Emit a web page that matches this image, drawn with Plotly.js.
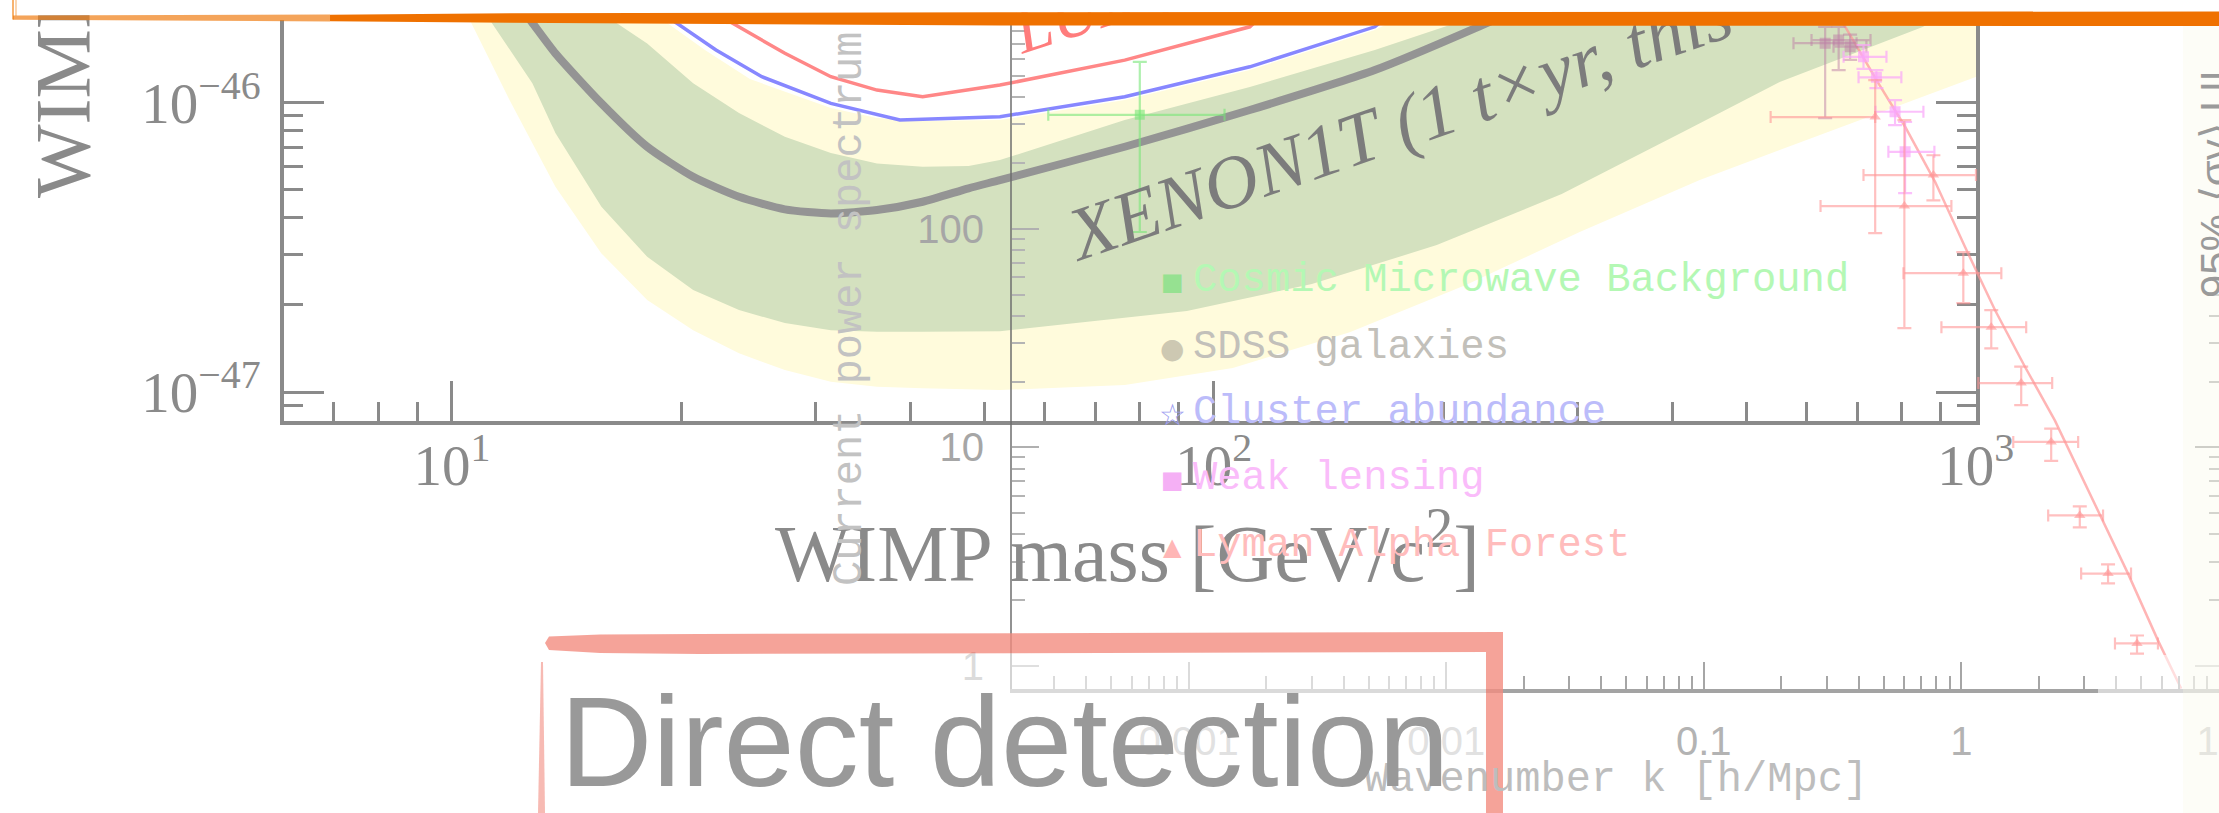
<!DOCTYPE html>
<html>
<head>
<meta charset="utf-8">
<script src="https://cdn.plot.ly/plotly-3.0.1.min.js"></script>
<style>
  html, body { margin: 0; padding: 0; background: #ffffff; }
  #wrap { position: relative; width: 2219px; height: 813px; overflow: hidden; }
  #chart, #frame { position: absolute; left: 0; top: 0; width: 2219px; height: 813px; }
  #frame { pointer-events: none; }
</style>
</head>
<body>
<div id="wrap"><div id="chart"></div><div id="frame"></div></div>
<script>
const W = 2219, H = 813;

// ---------- XENON1T spin-independent WIMP-nucleon limit (mass GeV/c^2, cross section cm^2)
const limitMass = [11.05, 12.72, 13.67, 15.71, 18.04, 20.73, 23.81, 27.35, 31.43, 36.12, 41.48, 47.66, 52.39, 76.40, 111.5, 162.7, 220.1, 284.5];
const limitXsec = [3.11e-46, 1.905e-46, 1.482e-46, 9.95e-47, 7.045e-47, 5.547e-47, 4.731e-47, 4.28e-47, 4.145e-47, 4.256e-47, 4.548e-47, 5.061e-47, 5.403e-47, 7.045e-47, 9.436e-47, 1.297e-46, 1.807e-46, 2.452e-46];

// 1 sigma sensitivity band (lower and upper edges, increasing mass)
const sens1LowMass = [9.53, 11.25, 12.75, 13.67, 15.71, 18.04, 20.73, 23.81, 27.35, 31.43, 36.13, 41.48, 52.39, 92.18, 134.5, 196.2, 286.2, 417.7, 553.1, 852.0, 1108];
const sens1LowXsec = [3.65e-46, 1.905e-46, 1.167e-46, 7.856e-47, 4.369e-47, 2.935e-47, 2.252e-47, 1.92e-47, 1.732e-47, 1.637e-47, 1.615e-47, 1.615e-47, 1.624e-47, 1.905e-47, 2.362e-47, 3.221e-47, 4.834e-47, 8.045e-47, 1.179e-46, 1.826e-46, 2.655e-46];
const sens1HighMass = [12.36, 16.37, 18.04, 20.73, 23.81, 27.35, 31.43, 36.13, 41.48, 47.66, 52.39, 76.40, 111.5, 162.7, 204.1, 252.1, 1108];
const sens1HighXsec = [3.11e-46, 1.905e-46, 1.604e-46, 1.167e-46, 9.213e-47, 7.628e-47, 6.70e-47, 6.172e-47, 6.008e-47, 6.041e-47, 6.336e-47, 8.713e-47, 1.133e-46, 1.521e-46, 1.855e-46, 2.655e-46, 8.18e-46];

// 2 sigma sensitivity band
const sens2LowMass = [9.36, 10.57, 11.90, 13.67, 15.71, 18.04, 20.73, 23.81, 27.35, 31.43, 36.13, 41.48, 52.39, 76.40, 105.9, 150.8, 214.2, 302.2, 434.4, 553.1, 748.2, 1000, 1108];
const sens2LowXsec = [3.65e-46, 1.905e-46, 1.022e-46, 5.125e-47, 3.015e-47, 2.08e-47, 1.637e-47, 1.361e-47, 1.191e-47, 1.085e-47, 1.043e-47, 1.03e-47, 1.016e-47, 1.057e-47, 1.211e-47, 1.611e-47, 2.344e-47, 3.573e-47, 5.403e-47, 6.862e-47, 9.213e-47, 1.227e-46, 1.371e-46];
const sens2HighMass = [14.72, 19.08, 21.48, 24.61, 31.43, 36.13, 41.48, 52.39, 76.40, 111.5, 162.7, 175.4, 192.1, 1108];
const sens2HighXsec = [3.11e-46, 1.905e-46, 1.521e-46, 1.207e-46, 9.59e-47, 8.85e-47, 8.643e-47, 8.713e-47, 1.022e-46, 1.297e-46, 1.783e-46, 1.963e-46, 2.655e-46, 8.97e-46];

// Earlier limits
const pandaxMass = [14.94, 19.61, 22.21, 25.51, 31.43, 38.72, 52.39, 76.40, 111.5, 162.7, 186.3];
const pandaxXsec = [3.11e-46, 1.905e-46, 1.521e-46, 1.23e-46, 9.95e-47, 8.713e-47, 8.945e-47, 1.049e-46, 1.331e-46, 1.83e-46, 2.452e-46];
const luxMass = [16.77, 23.16, 27.35, 31.43, 36.13, 41.48, 52.39, 76.40, 111.5, 125.8];
const luxXsec = [3.11e-46, 1.905e-46, 1.482e-46, 1.23e-46, 1.106e-46, 1.049e-46, 1.151e-46, 1.404e-46, 1.83e-46, 2.452e-46];

const massTicks = [10, 100, 1000];
const massTickText = ['10<sup>1</sup>', '10<sup>2</sup>', '10<sup>3</sup>'];
const xsecTicks = [1e-47, 1e-46];
const xsecTickText = ['10<sup>\u221247</sup>', '10<sup>\u221246</sup>'];

// ---------- Matter power spectrum P(k) (k in h/Mpc, P in (Mpc/h)^3)
const theoryK = [0.3277, 0.354, 0.4768, 0.605, 0.791, 1.033, 1.351, 1.766, 2.307, 3.396, 4.439, 5.80, 7.144];
const theoryP = [951, 840.6, 463, 293, 164, 82.7, 42.5, 23.4, 13.3, 5.16, 2.648, 1.311, 0.788];

const cmbK = [6.46e-4], cmbP = [332];
const cmbKlo = [2.85e-4], cmbKhi = [1.378e-3], cmbPlo = [96.7], cmbPhi = [579.5];

const sdssK = [0.296, 0.334, 0.370];
const sdssP = [706, 730, 681];
const sdssKlo = [0.223, 0.262, 0.319], sdssKhi = [0.392, 0.444, 0.428];
const sdssPlo = [321, 532, 592], sdssPhi = [838, 838, 773];

const lensK = [0.417, 0.468, 0.553, 0.605];
const lensP = [612, 493, 343, 225];
const lensKlo = [0.349, 0.399, 0.464, 0.521], lensKhi = [0.512, 0.585, 0.7126, 0.786];
const lensPlo = [539, 440, 298, 145.7], lensPhi = [693, 532, 388, 308];

const lyaK = [0.463, 0.601, 0.779, 1.018, 1.307, 1.708, 2.233, 2.884, 3.713, 4.81];
const lyaP = [324.5, 127, 176, 62.7, 35.5, 19.7, 10.6, 4.89, 2.648, 1.27];
const lyaKlo = [0.1818, 0.284, 0.417, 0.596, 0.837, 1.164, 1.591, 2.174, 2.919, 3.95];
const lyaKhi = [0.463, 0.915, 1.14, 1.43, 1.786, 2.253, 2.842, 3.551, 4.56, 5.80];
const lyaPlo = [95.6, 35.1, 135, 45.7, 28.4, 15.6, 8.69, 4.31, 2.39, 1.14];
const lyaPhi = [479, 314, 217, 78.2, 42.5, 23.4, 12.2, 5.38, 2.92, 1.38];

const kTicks = [0.001, 0.01, 0.1, 1, 10];
const kTickText = ['0.001', '0.01', '0.1', '1', '10'];
const pTicks = [1, 10, 100];
const pTickText = ['1', '10', '100'];

const legendLabels = ['Cosmic Microwave Background', 'SDSS galaxies', 'Cluster abundance', 'Weak lensing', 'Lyman Alpha Forest'];
const legendSymbols = ['\u25A0', '\u25CF', '\u2606', '\u25A0', '\u25B2'];
const legendTextColors = ['rgb(180,248,180)', 'rgb(194,192,186)', 'rgb(188,188,250)', 'rgb(250,188,250)', 'rgb(255,188,188)'];
const legendSymbolColors = ['rgb(150,225,145)', 'rgb(205,200,178)', 'rgb(160,160,240)', 'rgb(245,176,245)', 'rgb(255,182,182)'];

// ---------- helpers
const px = x => x / W;            // page x (px) -> paper
const py = y => 1 - y / H;        // page y (px) -> paper
const pathFrom = pts => 'M' + pts.map(p => px(p[0]).toFixed(5) + ',' + py(p[1]).toFixed(5)).join(' L') + ' Z';
function minorTicks(d0, d1) {
  const v = [];
  for (let d = d0; d <= d1; d++) for (let m = 2; m <= 9; m++) v.push(m * Math.pow(10, d));
  return v;
}
function band(mLo, sLo, mHi, sHi, color) {
  return {
    type: 'scatter', mode: 'lines', xaxis: 'x', yaxis: 'y',
    x: mLo.concat(mHi.slice().reverse()), y: sLo.concat(sHi.slice().reverse()),
    fill: 'toself', fillcolor: color, line: { width: 0, color: color }, hoverinfo: 'skip'
  };
}
function points(k, p, klo, khi, plo, phi, symbol, size, color) {
  return {
    type: 'scatter', mode: 'markers', xaxis: 'x2', yaxis: 'y2', x: k, y: p,
    marker: { symbol: symbol, size: size, color: color },
    error_x: { type: 'data', symmetric: false, array: khi.map((h, i) => h - k[i]), arrayminus: k.map((c, i) => c - klo[i]), color: color, thickness: 2.2, width: 6 },
    error_y: { type: 'data', symmetric: false, array: phi.map((h, i) => h - p[i]), arrayminus: p.map((c, i) => c - plo[i]), color: color, thickness: 2.2, width: 7 },
    hoverinfo: 'skip'
  };
}

const GRAY = '#8a8a8a';

const traces = [
  band(sens2LowMass, sens2LowXsec, sens2HighMass, sens2HighXsec, '#fffbdc'),
  band(sens1LowMass, sens1LowXsec, sens1HighMass, sens1HighXsec, '#d4e1bf'),
  { type: 'scatter', mode: 'lines', x: luxMass, y: luxXsec, xaxis: 'x', yaxis: 'y', line: { color: 'rgb(255,135,135)', width: 3.5 }, hoverinfo: 'skip' },
  { type: 'scatter', mode: 'lines', x: pandaxMass, y: pandaxXsec, xaxis: 'x', yaxis: 'y', line: { color: 'rgb(135,135,255)', width: 3.5 }, hoverinfo: 'skip' },
  { type: 'scatter', mode: 'lines', x: limitMass, y: limitXsec, xaxis: 'x', yaxis: 'y', line: { color: 'rgb(148,148,148)', width: 8, shape: 'spline', smoothing: 0.6 }, hoverinfo: 'skip' },

  { type: 'scatter', mode: 'lines', x: theoryK, y: theoryP, xaxis: 'x2', yaxis: 'y2', line: { color: 'rgba(255,150,150,0.7)', width: 2.5 }, hoverinfo: 'skip' },
  points(cmbK, cmbP, cmbKlo, cmbKhi, cmbPlo, cmbPhi, 'square', 10, 'rgba(120,230,120,0.6)'),
  points(sdssK, sdssP, sdssKlo, sdssKhi, sdssPlo, sdssPhi, 'square', 11, 'rgba(190,125,165,0.5)'),
  points(lensK, lensP, lensKlo, lensKhi, lensPlo, lensPhi, 'square', 11, 'rgba(250,165,250,0.7)'),
  points(lyaK, lyaP, lyaKlo, lyaKhi, lyaPlo, lyaPhi, 'triangle-up', 10, 'rgba(255,150,150,0.6)'),
  // carries the tick marks along the right edge
  { type: 'scatter', mode: 'markers', x: [], y: [], xaxis: 'x2', yaxis: 'y3', hoverinfo: 'skip', showlegend: false }
];

const annotations = [
  { text: 'WIMP-nucleon cross section [cm<sup>2</sup>]', x: px(56), y: py(200), xanchor: 'center', yanchor: 'bottom', textangle: -90,
    font: { family: 'Liberation Serif', size: 78, color: GRAY } },
  { text: 'WIMP mass [GeV/c<sup>2</sup>]', x: px(1127), y: py(547), xanchor: 'center', yanchor: 'middle',
    font: { family: 'Liberation Serif', size: 80, color: GRAY } },
  { text: '<i>XENON1T (1 t\u00D7yr, this work)</i>', x: px(1490), y: py(92), xanchor: 'center', yanchor: 'middle', textangle: -19,
    font: { family: 'Liberation Serif', size: 75, color: '#7c7c7c' } },
  { text: '<i>LUX (2017)</i>', x: px(1166), y: py(-16), xanchor: 'center', yanchor: 'middle', textangle: -18,
    font: { family: 'Liberation Serif', size: 66, color: 'rgba(255,110,110,0.9)' } },
  { text: 'Current power spectrum P(k) [(Mpc/h)<sup>3</sup>]', x: px(846), y: py(588), xanchor: 'center', yanchor: 'bottom', textangle: -90,
    font: { family: 'Liberation Mono', size: 42, color: '#c2c2c2' } },
  { text: 'Wavenumber k [h/Mpc]', x: px(1616), y: py(780), xanchor: 'center', yanchor: 'middle',
    font: { family: 'Liberation Mono', size: 42, color: '#bdbdbd' } },
  { text: 'Direct detection', x: px(558), y: py(741), xanchor: 'left', yanchor: 'middle',
    font: { family: 'Liberation Sans', size: 128, color: '#999999' } },
  { text: '95% \u27E8\u03C3v\u27E9 UL', x: px(2215), y: py(300), xanchor: 'center', yanchor: 'bottom', textangle: -90,
    font: { family: 'Liberation Sans', size: 42, color: '#9a9a9a' } }
];
const legendRows = [280, 347, 412, 478, 545];
const symbolSizes = [24, 28, 30, 24, 24];
legendLabels.forEach((label, i) => {
  annotations.push({ text: legendSymbols[i], x: px(1172), y: py(legendRows[i] + 2), xanchor: 'center', yanchor: 'middle',
    font: { family: 'DejaVu Sans', size: symbolSizes[i], color: legendSymbolColors[i] } });
  annotations.push({ text: label, x: px(1191), y: py(legendRows[i]), xanchor: 'left', yanchor: 'middle',
    font: { family: 'Liberation Mono', size: 40.5, color: legendTextColors[i] } });
});
annotations.forEach(a => { a.showarrow = false; a.xref = 'paper'; a.yref = 'paper'; });

const shapes = [
  // light wash inside the "Direct detection" frame and at the right edge
  { type: 'rect', xref: 'paper', yref: 'paper', x0: px(544), x1: px(1486), y0: py(813), y1: py(653), fillcolor: 'rgba(255,255,255,0.6)', line: { width: 0 }, layer: 'above' },
  { type: 'rect', xref: 'paper', yref: 'paper', x0: px(2098), x1: 1, y0: py(813), y1: py(655), fillcolor: 'rgba(255,255,255,0.55)', line: { width: 0 }, layer: 'above' },
  { type: 'rect', xref: 'paper', yref: 'paper', x0: px(2183), x1: 1, y0: py(813), y1: py(26), fillcolor: 'rgba(250,250,228,0.3)', line: { width: 0 }, layer: 'above' },
  // hand-drawn red frame
  { type: 'path', xref: 'paper', yref: 'paper', layer: 'above', line: { width: 0 }, fillcolor: 'rgba(242,140,128,0.8)',
    path: pathFrom([[545, 643], [549, 636.5], [600, 634.5], [700, 634], [1503, 632], [1503, 813], [1486, 813], [1486, 652], [700, 654], [600, 653], [549, 650]]) },
  { type: 'path', xref: 'paper', yref: 'paper', layer: 'above', line: { width: 0 }, fillcolor: 'rgba(242,140,128,0.6)',
    path: pathFrom([[538, 813], [541, 662], [543, 662], [545, 813]]) }
];

const layout = {
  width: W, height: H,
  margin: { l: 0, r: 0, t: 0, b: 0 },
  paper_bgcolor: '#ffffff',
  plot_bgcolor: 'rgba(0,0,0,0)',
  showlegend: false,
  xaxis: {
    type: 'log', range: [0.7795, 3.0005], domain: [px(284), px(1976)], anchor: 'y',
    showline: true, linecolor: GRAY, linewidth: 4, mirror: false,
    ticks: 'inside', ticklen: 40, tickwidth: 3, tickcolor: GRAY,
    tickmode: 'array', tickvals: massTicks, ticktext: massTickText,
    minor: { tickmode: 'array', tickvals: minorTicks(0, 2), ticks: 'inside', ticklen: 19, tickwidth: 3, tickcolor: GRAY },
    tickfont: { family: 'Liberation Serif', size: 57, color: GRAY },
    ticklabelstandoff: -8, showgrid: false, zeroline: false, fixedrange: true
  },
  yaxis: {
    type: 'log', range: [-47.099, -45.714], domain: [py(420.7), py(20)], anchor: 'x',
    showline: true, linecolor: GRAY, linewidth: 4, mirror: 'ticks',
    ticks: 'inside', ticklen: 40, tickwidth: 3, tickcolor: GRAY,
    tickmode: 'array', tickvals: xsecTicks, ticktext: xsecTickText,
    minor: { tickmode: 'array', tickvals: minorTicks(-48, -46), ticks: 'inside', ticklen: 19, tickwidth: 3, tickcolor: GRAY },
    tickfont: { family: 'Liberation Serif', size: 57, color: GRAY },
    ticklabelstandoff: 8, showgrid: false, zeroline: false, fixedrange: true
  },
  xaxis2: {
    type: 'log', range: [-3.686, 1.0005], domain: [px(1012), 1], anchor: 'y2',
    showline: true, linecolor: '#a3a3a3', linewidth: 4,
    ticks: 'inside', ticklen: 27, tickwidth: 2, tickcolor: '#a6a6a6',
    tickmode: 'array', tickvals: kTicks, ticktext: kTickText,
    minor: { tickmode: 'array', tickvals: minorTicks(-4, 0), ticks: 'inside', ticklen: 13, tickwidth: 2, tickcolor: '#a6a6a6' },
    tickfont: { family: 'Liberation Sans', size: 40, color: '#b3b3b3' },
    ticklabeloverflow: 'allow', ticklabelstandoff: 14,
    showgrid: false, zeroline: false, fixedrange: true
  },
  yaxis2: {
    type: 'log', range: [-0.1034, 2.955], domain: [py(688.7), py(20)], anchor: 'x2',
    showline: true, linecolor: 'rgba(110,110,110,0.75)', linewidth: 2,
    ticks: 'inside', ticklen: 27, tickwidth: 2, tickcolor: '#b0b0b0',
    tickmode: 'array', tickvals: pTicks, ticktext: pTickText,
    minor: { tickmode: 'array', tickvals: minorTicks(0, 2), ticks: 'inside', ticklen: 13, tickwidth: 2, tickcolor: '#b4b4b4' },
    tickfont: { family: 'Liberation Sans', size: 40, color: '#a6a6a6' },
    ticklabelstandoff: 18, showgrid: false, zeroline: false, fixedrange: true
  },
  yaxis3: {
    type: 'log', range: [-0.1034, 2.955], overlaying: 'y2', anchor: 'free', position: 1, side: 'left',
    showline: false, ticks: 'outside', ticklen: 24, tickwidth: 2, tickcolor: '#bcbcbc',
    tickmode: 'array', tickvals: [1, 10], showticklabels: false,
    minor: { tickmode: 'array', tickvals: minorTicks(0, 1).filter(v => v <= 50), ticks: 'outside', ticklen: 10, tickwidth: 2, tickcolor: '#c4c4c4' },
    showgrid: false, zeroline: false, fixedrange: true
  },
  shapes: shapes,
  annotations: annotations
};

Plotly.newPlot('chart', traces, layout, { staticPlot: true, displayModeBar: false });

// Slide frame across the top: white margin and orange brush stroke
const frameShapes = [
  { type: 'path', xref: 'paper', yref: 'paper', line: { width: 0 }, fillcolor: '#ffffff',
    path: pathFrom([[0, -2], [W, -2], [W, 12], [1000, 12.5], [510, 13.2], [330, 14.6], [0, 15.5]]) },
  { type: 'path', xref: 'paper', yref: 'paper', line: { width: 0 }, fillcolor: 'rgba(240,125,20,0.7)',
    path: pathFrom([[13, 15.5], [330, 14.5], [330, 21.5], [13, 19.8]]) },
  { type: 'path', xref: 'paper', yref: 'paper', line: { width: 0 }, fillcolor: '#ef7100',
    path: pathFrom([[330, 14.8], [510, 13.2], [1000, 12.3], [W, 11.5], [W, 26], [1000, 25.5], [510, 22.8], [330, 21.2]]) },
  { type: 'line', xref: 'paper', yref: 'paper', x0: px(13), x1: px(13), y0: py(0), y1: py(19.5), line: { color: 'rgba(240,120,0,0.75)', width: 1.5 } },
  { type: 'line', xref: 'paper', yref: 'paper', x0: px(16), x1: px(16), y0: py(0), y1: py(16), line: { color: 'rgba(240,140,40,0.6)', width: 1.2 } }
];
Plotly.newPlot('frame', [], {
  width: W, height: H, margin: { l: 0, r: 0, t: 0, b: 0 },
  paper_bgcolor: 'rgba(0,0,0,0)', plot_bgcolor: 'rgba(0,0,0,0)',
  xaxis: { visible: false }, yaxis: { visible: false },
  shapes: frameShapes
}, { staticPlot: true, displayModeBar: false });
</script>
</body>
</html>
